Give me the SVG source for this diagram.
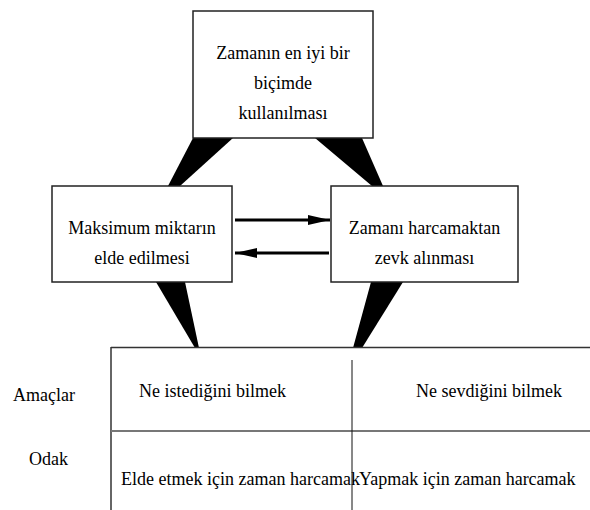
<svg xmlns="http://www.w3.org/2000/svg" width="590" height="510" viewBox="0 0 590 510">
<style>
.box{fill:#fff;stroke:#222;stroke-width:1.5}
text{font-family:'Liberation Serif','Tinos','Noto Serif','DejaVu Serif',serif;font-size:18px;fill:#000}
.c{text-anchor:middle}
.wedge{fill:#000}
.arr{stroke:#000;stroke-width:3;fill:none}
.tl{stroke:#333;stroke-width:1.5;fill:none}
</style>
<defs>
<marker id="ah" markerWidth="22" markerHeight="10" refX="22" refY="5" orient="auto" markerUnits="userSpaceOnUse">
<path d="M0,0 L22,5 L0,10 z" fill="#000"/>
</marker>
</defs>
<rect width="590" height="510" fill="#fff"/>
<g id="connectors">
<polygon class="wedge" points="193,138 233,138 180,186 168,186"/>
<polygon class="wedge" points="315,138 362,138 383,186 372,186"/>
<polygon class="wedge" points="156,282 185,282 199,348 195,348"/>
<polygon class="wedge" points="371,282 403,282 362,348 353,348"/>
<line class="arr" x1="235" y1="220" x2="330" y2="220" marker-end="url(#ah)"/>
<line class="arr" x1="329" y1="253" x2="235" y2="253" marker-end="url(#ah)"/>
</g>
<g id="node-top">
<rect class="box" x="193" y="11" width="180" height="127"/>
<text class="c" x="283" y="59">Zamanın en iyi bir</text>
<text class="c" x="283" y="89">biçimde</text>
<text class="c" x="283" y="119">kullanılması</text>
</g>
<g id="node-left">
<rect class="box" x="52" y="186" width="180" height="96"/>
<text class="c" x="142" y="234">Maksimum miktarın</text>
<text class="c" x="142" y="264">elde edilmesi</text>
</g>
<g id="node-right">
<rect class="box" x="331" y="186" width="187" height="96"/>
<text class="c" x="424.5" y="234">Zamanı harcamaktan</text>
<text class="c" x="424.5" y="264">zevk alınması</text>
</g>
<g id="table">
<line class="tl" x1="111" y1="347.5" x2="590" y2="347.5"/>
<line class="tl" x1="111" y1="347" x2="111" y2="510"/>
<line x1="111" y1="431" x2="590" y2="431" stroke="#777" stroke-width="2"/>
<line x1="352" y1="360" x2="352" y2="510" stroke="#111" stroke-width="1"/>
<text x="13" y="401">Amaçlar</text>
<text x="29" y="465">Odak</text>
<text x="139" y="397">Ne istediğini bilmek</text>
<text x="416" y="397">Ne sevdiğini bilmek</text>
<text x="121" y="485">Elde etmek için zaman harcamak</text>
<text x="359" y="485">Yapmak için zaman harcamak</text>
</g>
</svg>
